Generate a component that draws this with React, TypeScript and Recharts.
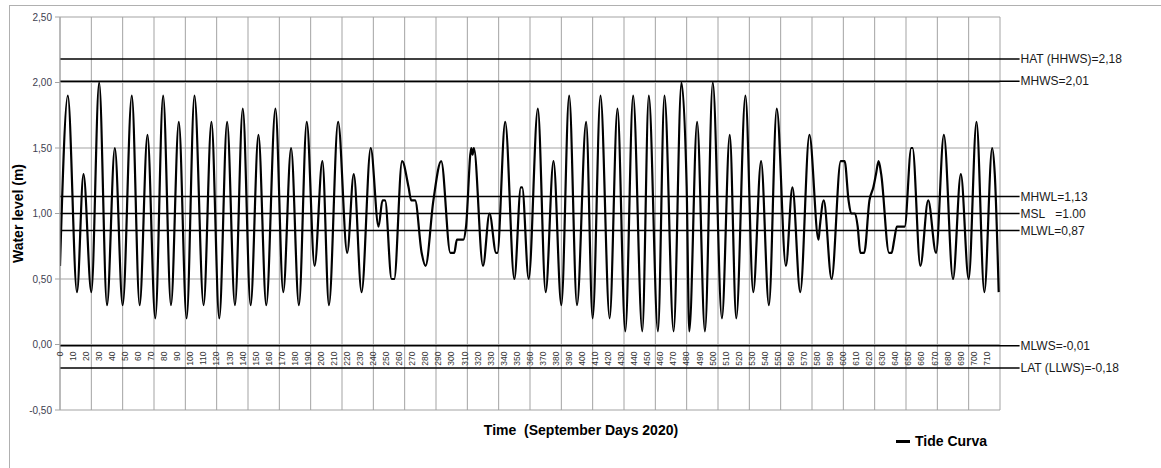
import React from 'react';
import { LineChart, Line, XAxis, YAxis, CartesianGrid, ReferenceLine, Legend } from 'recharts';

// Hour of the month (hourly record, September 2020) at turning points / shoulders
const hours = [
  0, 6, 13, 18, 24, 30, 36, 42, 48, 55, 61, 67, 73, 79, 85, 91, 97, 103, 110, 116,
  122, 128, 134, 140, 146, 152, 158, 165, 171, 177, 183, 189, 195, 201, 206, 213, 220, 225, 231, 238,
  244, 247, 249, 254, 256, 262, 267, 269, 272, 277, 280, 286, 292, 299, 302, 304, 309, 311, 315, 316,
  317, 324, 329, 334, 335, 341, 348, 353, 354, 359, 366, 372, 378, 384, 390, 396, 403, 408, 414, 421,
  427, 433, 439, 446, 451, 458, 463, 470, 476, 480, 482, 488, 494, 500, 507, 513, 518, 525, 531, 537,
  543, 549, 556, 561, 567, 574, 581, 582, 585, 591, 598, 601, 604, 606, 609, 611, 613, 616, 620, 623,
  625, 627, 629, 635, 637, 639, 641, 647, 652, 653, 659, 665, 671, 677, 684, 690, 696, 702, 708, 714,
  716, 719,
];
// Water level (m)
const levels = [
  0.6, 1.9, 0.4, 1.3, 0.4, 2.0, 0.3, 1.5, 0.3, 1.9, 0.3, 1.6, 0.2, 1.9, 0.3, 1.7, 0.2, 1.9, 0.3, 1.7,
  0.2, 1.7, 0.3, 1.8, 0.3, 1.6, 0.3, 1.8, 0.4, 1.5, 0.3, 1.7, 0.6, 1.4, 0.3, 1.7, 0.7, 1.3, 0.4, 1.5,
  0.9, 1.1, 1.1, 0.5, 0.5, 1.4, 1.2, 1.1, 1.1, 0.7, 0.6, 1.1, 1.4, 0.7, 0.7, 0.8, 0.8, 0.9, 1.5, 1.45,
  1.5, 0.6, 1.0, 0.7, 0.7, 1.7, 0.5, 1.2, 1.2, 0.5, 1.8, 0.4, 1.4, 0.3, 1.9, 0.3, 1.7, 0.2, 1.9, 0.2,
  1.8, 0.1, 1.9, 0.1, 1.9, 0.1, 1.9, 0.1, 2.0, 1.2, 0.1, 1.7, 0.1, 2.0, 0.2, 1.6, 0.2, 1.9, 0.4, 1.4,
  0.3, 1.8, 0.6, 1.2, 0.4, 1.6, 0.8, 0.9, 1.1, 0.5, 1.4, 1.4, 1.1, 1.0, 1.0, 0.9, 0.7, 0.7, 1.1, 1.2,
  1.3, 1.4, 1.3, 0.7, 0.7, 0.8, 0.9, 0.9, 1.5, 1.5, 0.6, 1.1, 0.7, 1.6, 0.5, 1.3, 0.5, 1.7, 0.4, 1.5,
  1.3, 0.4,
];

// Tidal datum levels
const datumLabels = [
  'HAT (HHWS)=2,18',
  'MHWS=2,01',
  'MHWL=1,13',
  'MSL\u00A0\u00A0\u00A0=1.00',
  'MLWL=0,87',
  'MLWS=-0,01',
  'LAT (LLWS)=-0,18',
];
const datumValues = [2.18, 2.01, 1.13, 1.0, 0.87, -0.01, -0.18];

const xTicks = Array.from({ length: 72 }, (_, i) => i * 10);
const dayLines = Array.from({ length: 31 }, (_, i) => i * 24);
const yTicks = [-0.5, 0, 0.5, 1.0, 1.5, 2.0, 2.5];

const X_MAX = 720;
const LABEL_LINE_END = 735; // datum lines extend slightly beyond the plot

const data = hours.map((h, i) => ({ hour: h, level: levels[i] }));

const W = 1161;
const H = 468;
const X_AXIS_H = 58;
const margin = { top: 17, right: 161, bottom: 0, left: 0 };
const Y_MIN = -0.5;
const Y_MAX = 2.5;
const plotTop = margin.top;
const plotBottom = H - margin.bottom - X_AXIS_H;
const zeroY = plotTop + ((Y_MAX - 0) / (Y_MAX - Y_MIN)) * (plotBottom - plotTop);

const GRID = '#a3a3a3';
const FONT = '"Liberation Sans", Arial, sans-serif';

const XTick = (props: any) => {
  const { x, payload } = props;
  return (
    <g transform={`translate(${x},${zeroY + 7})`}>
      <text transform="rotate(-90)" textAnchor="end" dy="0.33em" fontSize={8.5} fill="#333" fontFamily={FONT}>
        {payload.value}
      </text>
    </g>
  );
};

const LegendContent = (props: any) => {
  const items = props.payload || [];
  return (
    <div style={{ display: 'flex', alignItems: 'center', fontFamily: FONT }}>
      {items.map((it: any) => (
        <div key={it.value} style={{ display: 'flex', alignItems: 'center' }}>
          <span style={{ display: 'inline-block', width: 14, height: 3, background: '#000', marginRight: 5 }} />
          <span style={{ fontWeight: 'bold', fontSize: 14, color: '#000' }}>{it.value}</span>
        </div>
      ))}
    </div>
  );
};

export default function App() {
  return (
    <div style={{ position: 'absolute', left: 0, top: 0, width: W, height: H, background: '#fff', overflow: 'hidden' }}>
      <div
        style={{
          position: 'absolute',
          left: 9,
          top: 5,
          width: W,
          height: H,
          borderLeft: '1px solid #b0b0b0',
          borderTop: '1px solid #b0b0b0',
        }}
      />
      <div style={{ position: 'absolute', left: 0, top: 0 }}>
        <LineChart width={W} height={H} data={data} margin={margin} style={{ fontFamily: FONT }}>
          <CartesianGrid vertical={false} stroke={GRID} strokeWidth={1} />
          {dayLines.map((d) => (
            <ReferenceLine key={`d${d}`} x={d} stroke={GRID} strokeWidth={1} />
          ))}
          <XAxis
            type="number"
            dataKey="hour"
            domain={[0, X_MAX]}
            ticks={xTicks}
            interval={0}
            height={X_AXIS_H}
            axisLine={false}
            tickLine={false}
            tick={<XTick />}
            allowDataOverflow
            label={{
              value: 'Time\u00A0\u00A0(September Days 2020)',
              position: 'insideTop',
              offset: 15,
              dx: 51,
              style: { fontWeight: 'bold', fontSize: 14, fill: '#000', fontFamily: FONT },
            }}
          />
          <YAxis
            type="number"
            domain={[Y_MIN, Y_MAX]}
            ticks={yTicks}
            interval={0}
            width={60}
            axisLine={{ stroke: GRID }}
            tickLine={{ stroke: GRID }}
            tickSize={5}
            tickMargin={3}
            tick={{ fontSize: 10, fill: '#404050', fontFamily: FONT }}
            tickFormatter={(v: number) => v.toFixed(2).replace('.', ',')}
            label={{
              value: 'Water level (m)',
              angle: -90,
              position: 'insideLeft',
              offset: 18,
              style: { textAnchor: 'middle', fontWeight: 'bold', fontSize: 14, fill: '#000', fontFamily: FONT },
            }}
          />
          {datumValues.map((v, i) => (
            <ReferenceLine
              key={datumLabels[i]}
              segment={[
                { x: 0, y: v },
                { x: LABEL_LINE_END, y: v },
              ]}
              ifOverflow="visible"
              stroke="#000"
              strokeWidth={1.5}
              label={{
                value: datumLabels[i],
                position: 'right',
                offset: 1,
                fontSize: 12,
                fill: '#1a1a1a',
                fontFamily: FONT,
              }}
            />
          ))}
          <Line
            type="monotone"
            dataKey="level"
            name="Tide Curva"
            stroke="#000"
            strokeWidth={2.2}
            dot={false}
            isAnimationActive={false}
          />
          <Legend
            layout="vertical"
            align="center"
            verticalAlign="middle"
            content={<LegendContent />}
            wrapperStyle={{ left: 896, top: 433, width: 'auto', height: 'auto' }}
          />
        </LineChart>
      </div>
    </div>
  );
}
